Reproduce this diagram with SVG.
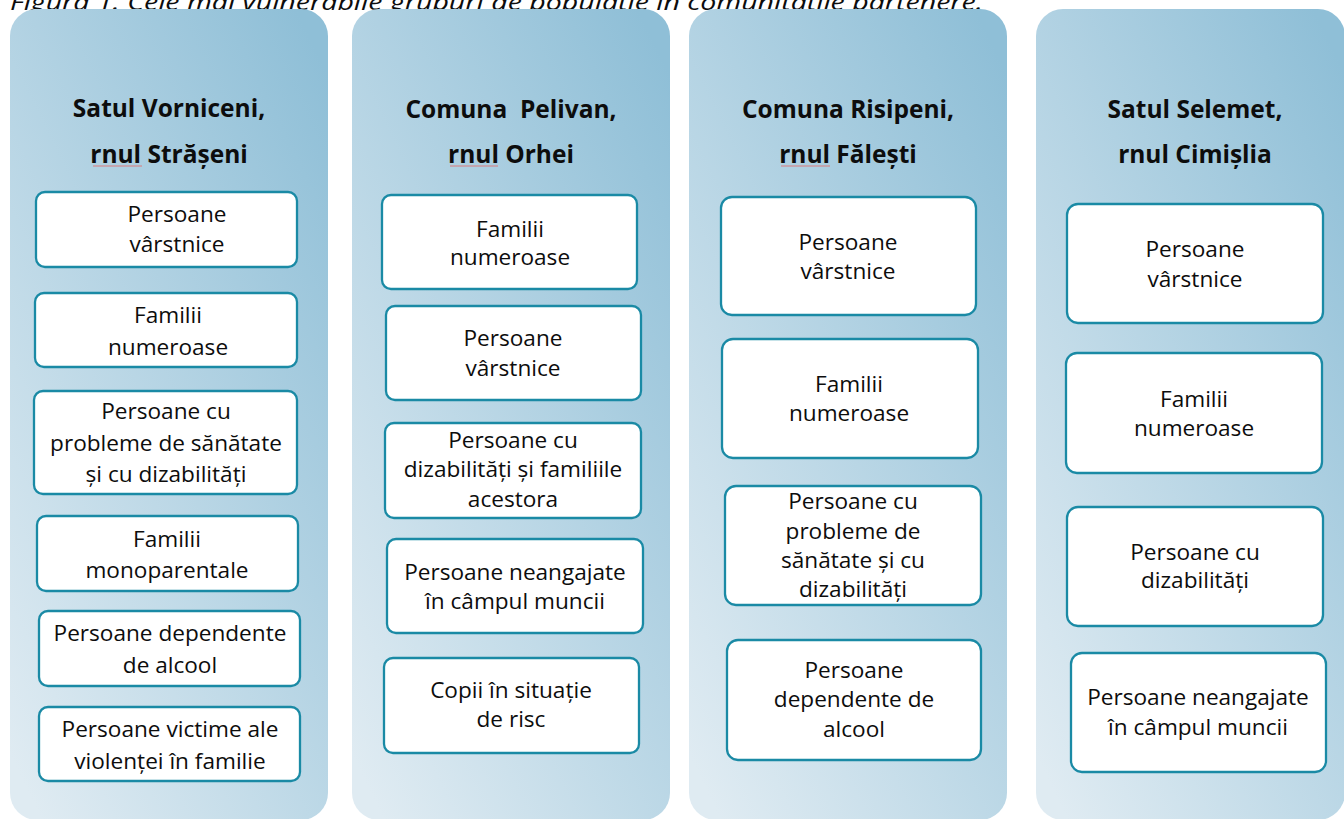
<svg xmlns="http://www.w3.org/2000/svg" width="1344" height="819" viewBox="0 0 1344 819">
<defs>
<linearGradient id="pg" x1="0.9" y1="0" x2="0.1" y2="1">
<stop offset="0" stop-color="#8fbfd7"/>
<stop offset="1" stop-color="#dfebf2"/>
</linearGradient>
<style>
.panel{fill:url(#pg)}
.box{fill:#ffffff;stroke:#1a8aa5;stroke-width:2.3}
.h{font-family:"Open Sans","Noto Sans",sans-serif;font-weight:bold;font-size:24.5px;fill:#0d0d0d;text-anchor:middle}
.t{font-family:"Open Sans","Noto Sans",sans-serif;font-size:22.6px;fill:#0d0d0d;text-anchor:middle}
.cap{font-family:"Open Sans","Noto Sans",sans-serif;font-style:italic;font-size:22.6px;fill:#0d0d0d}
.sq{stroke:#e07070;stroke-width:0.9;fill:none}
</style>
</defs>
<rect width="1344" height="819" fill="#ffffff"/>
<text class="cap" x="10" y="10" textLength="973" lengthAdjust="spacingAndGlyphs">Figura 1. Cele mai vulnerabile grupuri de populație în comunitățile partenere.</text>

<g id="col1">
<rect class="panel" x="10" y="9" width="318" height="811" rx="27"/>
<text class="h" x="169" y="117">Satul Vorniceni,</text>
<text class="h" x="169" y="163">rnul Strășeni</text>
<line class="sq" x1="93" y1="166" x2="142" y2="166"/>
</g>
<g id="c1b1"><rect class="box" x="36" y="192" width="261" height="75" rx="9"/><text class="t"><tspan x="177" y="222">Persoane</tspan><tspan x="177" y="252">vârstnice</tspan></text></g>
<g id="c1b2"><rect class="box" x="35" y="293" width="262" height="74" rx="9"/><text class="t"><tspan x="168" y="323">Familii</tspan><tspan x="168" y="355">numeroase</tspan></text></g>
<g id="c1b3"><rect class="box" x="34" y="391" width="263" height="103" rx="9"/><text class="t"><tspan x="166" y="419">Persoane cu</tspan><tspan x="166" y="451">probleme de sănătate</tspan><tspan x="166" y="482">și cu dizabilități</tspan></text></g>
<g id="c1b4"><rect class="box" x="37" y="516" width="261" height="75" rx="9"/><text class="t"><tspan x="167" y="547">Familii</tspan><tspan x="167" y="578">monoparentale</tspan></text></g>
<g id="c1b5"><rect class="box" x="39" y="611" width="261" height="75" rx="9"/><text class="t"><tspan x="170" y="641">Persoane dependente</tspan><tspan x="170" y="673">de alcool</tspan></text></g>
<g id="c1b6"><rect class="box" x="39" y="707" width="261" height="74" rx="9"/><text class="t"><tspan x="170" y="737">Persoane victime ale</tspan><tspan x="170" y="769">violenței în familie</tspan></text></g>

<g id="col2">
<rect class="panel" x="352" y="9" width="318" height="811" rx="27"/>
<text class="h" x="511" y="118" xml:space="preserve">Comuna  Pelivan,</text>
<text class="h" x="511" y="163">rnul Orhei</text>
<line class="sq" x1="450" y1="166" x2="498" y2="166"/>
</g>
<g id="c2b1"><rect class="box" x="382" y="195" width="255" height="94" rx="9"/><text class="t"><tspan x="510" y="237">Familii</tspan><tspan x="510" y="265">numeroase</tspan></text></g>
<g id="c2b2"><rect class="box" x="386" y="306" width="255" height="94" rx="9"/><text class="t"><tspan x="513" y="346">Persoane</tspan><tspan x="513" y="376">vârstnice</tspan></text></g>
<g id="c2b3"><rect class="box" x="385" y="423" width="256" height="95" rx="9"/><text class="t"><tspan x="513" y="448">Persoane cu</tspan><tspan x="513" y="477">dizabilități și familiile</tspan><tspan x="513" y="507">acestora</tspan></text></g>
<g id="c2b4"><rect class="box" x="387" y="539" width="256" height="94" rx="9"/><text class="t"><tspan x="515" y="580">Persoane neangajate</tspan><tspan x="515" y="609">în câmpul muncii</tspan></text></g>
<g id="c2b5"><rect class="box" x="384" y="658" width="255" height="95" rx="9"/><text class="t"><tspan x="511" y="698">Copii în situație</tspan><tspan x="511" y="727">de risc</tspan></text></g>

<g id="col3">
<rect class="panel" x="689" y="9" width="318" height="811" rx="27"/>
<text class="h" x="848" y="118">Comuna Risipeni,</text>
<text class="h" x="848" y="163">rnul Fălești</text>
<line class="sq" x1="781" y1="166" x2="830" y2="166"/>
</g>
<g id="c3b1"><rect class="box" x="721" y="197" width="255" height="118" rx="11"/><text class="t"><tspan x="848" y="250">Persoane</tspan><tspan x="848" y="279">vârstnice</tspan></text></g>
<g id="c3b2"><rect class="box" x="722" y="339" width="256" height="119" rx="11"/><text class="t"><tspan x="849" y="392">Familii</tspan><tspan x="849" y="421">numeroase</tspan></text></g>
<g id="c3b3"><rect class="box" x="725" y="486" width="256" height="119" rx="11"/><text class="t"><tspan x="853" y="509">Persoane cu</tspan><tspan x="853" y="539">probleme de</tspan><tspan x="853" y="568">sănătate și cu</tspan><tspan x="853" y="597">dizabilități</tspan></text></g>
<g id="c3b4"><rect class="box" x="727" y="640" width="254" height="120" rx="11"/><text class="t"><tspan x="854" y="678">Persoane</tspan><tspan x="854" y="707">dependente de</tspan><tspan x="854" y="737">alcool</tspan></text></g>

<g id="col4">
<rect class="panel" x="1036" y="9" width="309" height="811" rx="27"/>
<text class="h" x="1195" y="118">Satul Selemet,</text>
<text class="h" x="1195" y="163">rnul Cimișlia</text>
</g>
<g id="c4b1"><rect class="box" x="1067" y="204" width="256" height="119" rx="11"/><text class="t"><tspan x="1195" y="257">Persoane</tspan><tspan x="1195" y="287">vârstnice</tspan></text></g>
<g id="c4b2"><rect class="box" x="1066" y="353" width="256" height="120" rx="11"/><text class="t"><tspan x="1194" y="407">Familii</tspan><tspan x="1194" y="436">numeroase</tspan></text></g>
<g id="c4b3"><rect class="box" x="1067" y="507" width="256" height="119" rx="11"/><text class="t"><tspan x="1195" y="560">Persoane cu</tspan><tspan x="1195" y="588">dizabilități</tspan></text></g>
<g id="c4b4"><rect class="box" x="1071" y="653" width="255" height="119" rx="11"/><text class="t"><tspan x="1198" y="705">Persoane neangajate</tspan><tspan x="1198" y="735">în câmpul muncii</tspan></text></g>

<g id="connectors"></g>
</svg>
